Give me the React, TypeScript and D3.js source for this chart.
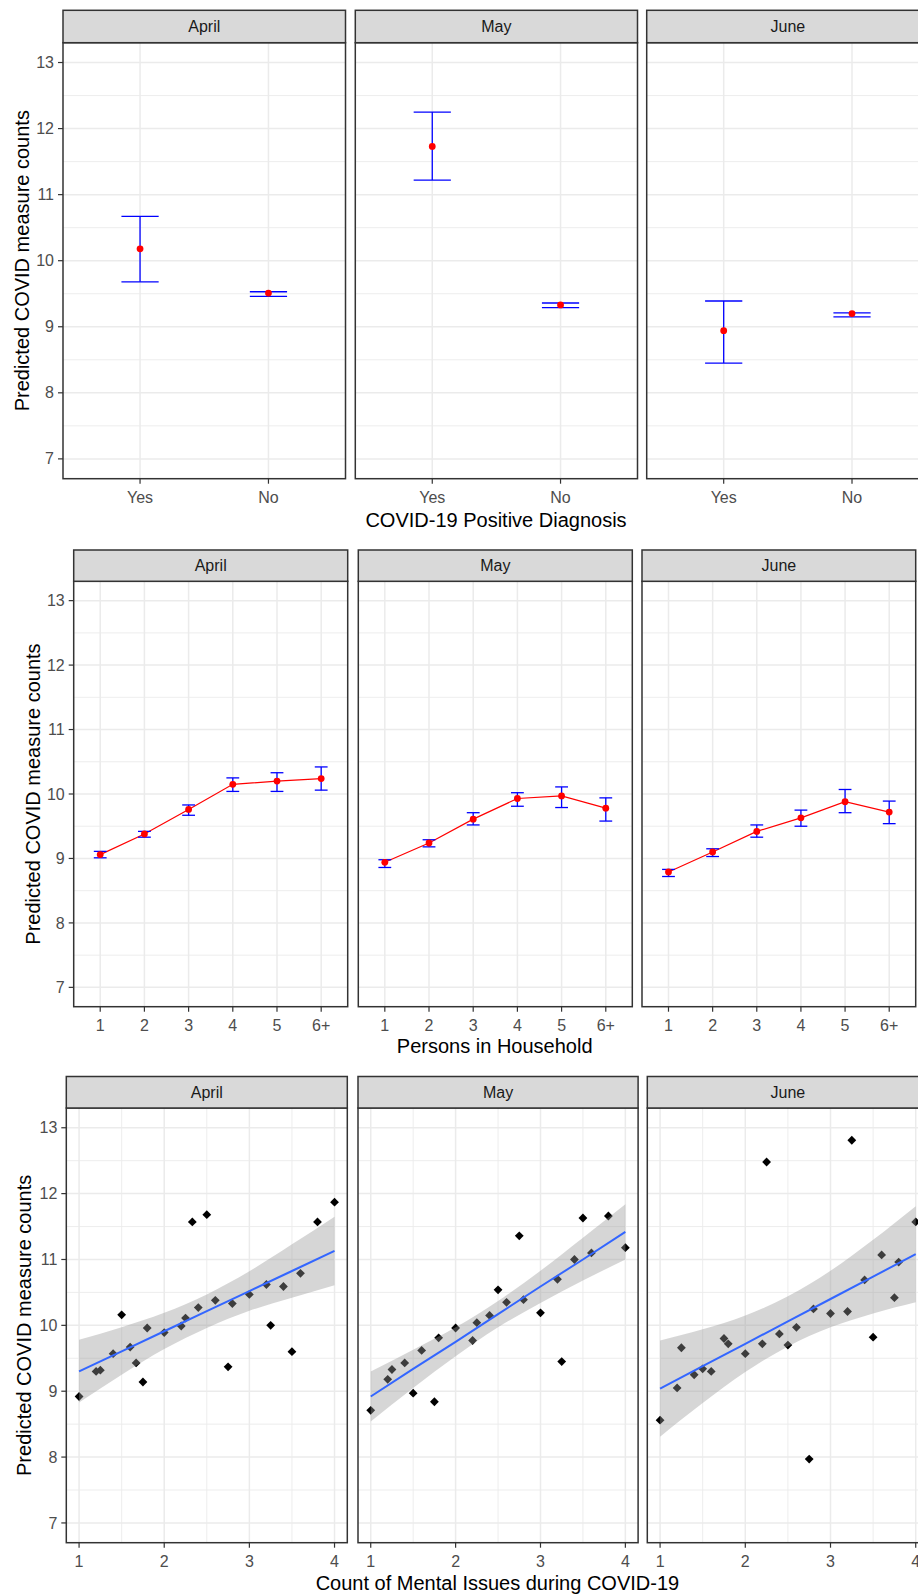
import React from "react";
import * as d3 from "d3";

// facet labels
const months = ["April", "May", "June"];

// row 1: COVID-19 positive diagnosis
const diagCats = ["Yes", "No"];
const diagMean = [[10.18, 9.51], [11.73, 9.33], [8.94, 9.2]];
const diagLow = [[9.68, 9.46], [11.22, 9.29], [8.45, 9.15]];
const diagHigh = [[10.67, 9.53], [12.25, 9.36], [9.39, 9.21]];

// row 2: persons in household
const hhCats = ["1", "2", "3", "4", "5", "6+"];
const hhMean = [
  [9.06, 9.38, 9.76, 10.15, 10.2, 10.24],
  [8.94, 9.24, 9.61, 9.93, 9.97, 9.78],
  [8.79, 9.1, 9.42, 9.63, 9.88, 9.72],
];
const hhLow = [
  [9.01, 9.33, 9.67, 10.04, 10.04, 10.06],
  [8.86, 9.18, 9.52, 9.81, 9.79, 9.58],
  [8.72, 9.03, 9.33, 9.5, 9.71, 9.54],
];
const hhHigh = [
  [9.11, 9.42, 9.83, 10.25, 10.33, 10.42],
  [8.98, 9.29, 9.71, 10.02, 10.11, 9.94],
  [8.83, 9.15, 9.52, 9.75, 10.07, 9.89],
];

// row 3: count of mental issues (scatter + lm smooth)
const aprilX = [1, 1.2, 1.25, 1.4, 1.5, 1.6, 1.67, 1.75, 1.8, 2, 2.2, 2.25, 2.33, 2.4, 2.5, 2.6, 2.75, 2.8, 3, 3.2, 3.25, 3.4, 3.5, 3.6, 3.8, 4];
const aprilY = [8.92, 9.3, 9.32, 9.57, 10.16, 9.67, 9.43, 9.14, 9.96, 9.89, 9.99, 10.11, 11.57, 10.27, 11.68, 10.38, 9.37, 10.33, 10.47, 10.62, 10.0, 10.59, 9.6, 10.79, 11.57, 11.87];
const mayX = [1, 1.2, 1.25, 1.4, 1.5, 1.6, 1.75, 1.8, 2, 2.2, 2.25, 2.4, 2.5, 2.6, 2.75, 2.8, 3, 3.2, 3.25, 3.4, 3.5, 3.6, 3.8, 4];
const mayY = [8.71, 9.18, 9.33, 9.43, 8.97, 9.62, 8.84, 9.81, 9.96, 9.77, 10.04, 10.15, 10.54, 10.35, 11.36, 10.39, 10.19, 10.7, 9.45, 11.0, 11.63, 11.1, 11.66, 11.18];
const juneX = [1, 1.2, 1.25, 1.4, 1.5, 1.6, 1.75, 1.8, 2, 2.2, 2.25, 2.4, 2.5, 2.6, 2.75, 2.8, 3, 3.2, 3.25, 3.4, 3.5, 3.6, 3.75, 3.8, 4];
const juneY = [8.56, 9.05, 9.66, 9.25, 9.34, 9.3, 9.8, 9.72, 9.57, 9.72, 12.48, 9.87, 9.7, 9.97, 7.97, 10.25, 10.18, 10.21, 12.81, 10.69, 9.82, 11.07, 10.42, 10.96, 11.57];
const mentalX = [aprilX, mayX, juneX];
const mentalY = [aprilY, mayY, juneY];

const bandX = [1, 1.5, 2, 2.5, 3, 3.5, 4];
const fitY = [
  [9.3, 9.605, 9.91, 10.215, 10.52, 10.825, 11.13],
  [8.92, 9.34, 9.75, 10.17, 10.59, 11.0, 11.42],
  [9.04, 9.38, 9.72, 10.06, 10.4, 10.74, 11.08],
];
const bandLow = [
  [8.83, 9.25, 9.64, 9.96, 10.22, 10.42, 10.61],
  [8.54, 9.05, 9.53, 9.97, 10.34, 10.68, 11.0],
  [8.31, 8.82, 9.29, 9.68, 9.97, 10.18, 10.35],
];
const bandHigh = [
  [9.78, 9.97, 10.19, 10.47, 10.82, 11.23, 11.65],
  [9.3, 9.63, 9.97, 10.37, 10.83, 11.33, 11.84],
  [9.77, 9.94, 10.15, 10.44, 10.83, 11.3, 11.81],
];

const yTicks = [7, 8, 9, 10, 11, 12, 13];
const yMinor = [7.5, 8.5, 9.5, 10.5, 11.5, 12.5];
const mentalTicks = [1, 2, 3, 4];
const mentalMinor = [1.5, 2.5, 3.5];

const font = "'Liberation Sans', Arial, sans-serif";
const gridCol = "#EBEBEB";
const borderCol = "#333333";
const tickCol = "#4D4D4D";

const rows = [
  { stripTop: 10.3, stripBottom: 42.7, bottom: 478.7, panels: [[63, 345.5], [355.3, 637.5], [646.7, 929]], yTitleX: 28.5, xTitle: "COVID-19 Positive Diagnosis", xTitleY: 526.5 },
  { stripTop: 550, stripBottom: 581.3, bottom: 1006.7, panels: [[73.7, 347.7], [358.3, 632.3], [642, 915.7]], yTitleX: 39.5, xTitle: "Persons in Household", xTitleY: 1053 },
  { stripTop: 1076.5, stripBottom: 1108, bottom: 1542.7, panels: [[66.3, 347.3], [358, 638.1], [647.3, 928.5]], yTitleX: 30.8, xTitle: "Count of Mental Issues during COVID-19", xTitleY: 1590 },
];

const diamond = (cx, cy, r) => `M${cx},${cy - r}L${cx + r},${cy}L${cx},${cy + r}L${cx - r},${cy}Z`;

const Panel = ({ row, m }) => {
  const cfg = rows[row];
  const [left, right] = cfg.panels[m];
  const top = cfg.stripBottom;
  const bottom = cfg.bottom;
  const y = d3.scaleLinear().domain([6.7, 13.3]).range([bottom, top]);

  let xPos, xLabels, xMinorPos = [];
  let marks = null;

  if (row === 0 || row === 1) {
    const cats = row === 0 ? diagCats : hhCats;
    const x = d3.scalePoint().domain(cats).range([left, right]).padding(0.6);
    xPos = cats.map((c) => x(c));
    xLabels = cats;
    const capW = x.step() * 0.29;
    const mean = row === 0 ? diagMean[m] : hhMean[m];
    const lo = row === 0 ? diagLow[m] : hhLow[m];
    const hi = row === 0 ? diagHigh[m] : hhHigh[m];
    const line = d3.line().x((d, i) => x(cats[i])).y((d) => y(d));
    marks = (
      <g>
        {row === 1 && <path d={line(mean)} fill="none" stroke="#FF0000" strokeWidth={1.2} />}
        {cats.map((c, i) => (
          <g key={c} stroke="#0000FF" strokeWidth={1.3}>
            <line x1={x(c)} x2={x(c)} y1={y(lo[i])} y2={y(hi[i])} />
            <line x1={x(c) - capW / 2} x2={x(c) + capW / 2} y1={y(lo[i])} y2={y(lo[i])} />
            <line x1={x(c) - capW / 2} x2={x(c) + capW / 2} y1={y(hi[i])} y2={y(hi[i])} />
          </g>
        ))}
        {cats.map((c, i) => (
          <circle key={c} cx={x(c)} cy={y(mean[i])} r={3.4} fill="#FF0000" />
        ))}
      </g>
    );
  } else {
    const x = d3.scaleLinear().domain([0.85, 4.15]).range([left, right]);
    xPos = mentalTicks.map((t) => x(t));
    xLabels = mentalTicks.map(String);
    xMinorPos = mentalMinor.map((t) => x(t));
    const area = d3
      .area()
      .x((d, i) => x(bandX[i]))
      .y0((d) => y(d))
      .y1((d, i) => y(bandHigh[m][i]))
      .curve(d3.curveMonotoneX);
    const line = d3.line().x((d, i) => x(bandX[i])).y((d) => y(d));
    marks = (
      <g>
        {mentalX[m].map((v, i) => (
          <path key={i} d={diamond(x(v), y(mentalY[m][i]), 4.4)} fill="#000000" />
        ))}
        <path d={area(bandLow[m])} fill="#999999" fillOpacity={0.4} />
        <path d={line(fitY[m])} fill="none" stroke="#3366FF" strokeWidth={2} />
      </g>
    );
  }

  return (
    <g>
      <rect x={left} y={top} width={right - left} height={bottom - top} fill="#FFFFFF" />
      {yMinor.map((t) => (
        <line key={"ym" + t} x1={left} x2={right} y1={y(t)} y2={y(t)} stroke={gridCol} strokeWidth={0.9} />
      ))}
      {xMinorPos.map((p, i) => (
        <line key={"xm" + i} x1={p} x2={p} y1={top} y2={bottom} stroke={gridCol} strokeWidth={0.9} />
      ))}
      {yTicks.map((t) => (
        <line key={"yM" + t} x1={left} x2={right} y1={y(t)} y2={y(t)} stroke={gridCol} strokeWidth={1.5} />
      ))}
      {xPos.map((p, i) => (
        <line key={"xM" + i} x1={p} x2={p} y1={top} y2={bottom} stroke={gridCol} strokeWidth={1.5} />
      ))}
      {marks}
      <rect x={left} y={top} width={right - left} height={bottom - top} fill="none" stroke={borderCol} strokeWidth={1.5} />
      {/* strip */}
      <rect x={left} y={cfg.stripTop} width={right - left} height={cfg.stripBottom - cfg.stripTop} fill="#D9D9D9" stroke={borderCol} strokeWidth={1.5} />
      <text x={(left + right) / 2} y={(cfg.stripTop + cfg.stripBottom) / 2} dy="0.35em" textAnchor="middle" fontSize={16} fill="#1A1A1A">
        {months[m]}
      </text>
      {/* x axis ticks */}
      {xPos.map((p, i) => (
        <g key={"xt" + i}>
          <line x1={p} x2={p} y1={bottom} y2={bottom + 5} stroke={borderCol} strokeWidth={1.2} />
          <text x={p} y={bottom + 18.5} dy="0.35em" textAnchor="middle" fontSize={16} fill={tickCol}>
            {xLabels[i]}
          </text>
        </g>
      ))}
      {/* y axis only on first panel */}
      {m === 0 &&
        yTicks.map((t) => (
          <g key={"yt" + t}>
            <line x1={left - 5} x2={left} y1={y(t)} y2={y(t)} stroke={borderCol} strokeWidth={1.2} />
            <text x={left - 9} y={y(t)} dy="0.35em" textAnchor="end" fontSize={16} fill={tickCol}>
              {t}
            </text>
          </g>
        ))}
    </g>
  );
};

const App = () => {
  return (
    <svg width={918} height={1595} style={{ position: "absolute", left: 0, top: 0, background: "#FFFFFF" }} fontFamily={font}>
      <rect x={0} y={0} width={918} height={1595} fill="#FFFFFF" />
      {rows.map((cfg, r) => {
        const cy = (cfg.stripBottom + cfg.bottom) / 2;
        const cx = (cfg.panels[0][0] + cfg.panels[2][1]) / 2;
        return (
          <g key={r}>
            {months.map((mo, m) => (
              <Panel key={mo} row={r} m={m} />
            ))}
            <text transform={`translate(${cfg.yTitleX},${cy}) rotate(-90)`} textAnchor="middle" fontSize={20} fill="#000000">
              Predicted COVID measure counts
            </text>
            <text x={cx} y={cfg.xTitleY} textAnchor="middle" fontSize={20} fill="#000000">
              {cfg.xTitle}
            </text>
          </g>
        );
      })}
    </svg>
  );
};

export default App;
